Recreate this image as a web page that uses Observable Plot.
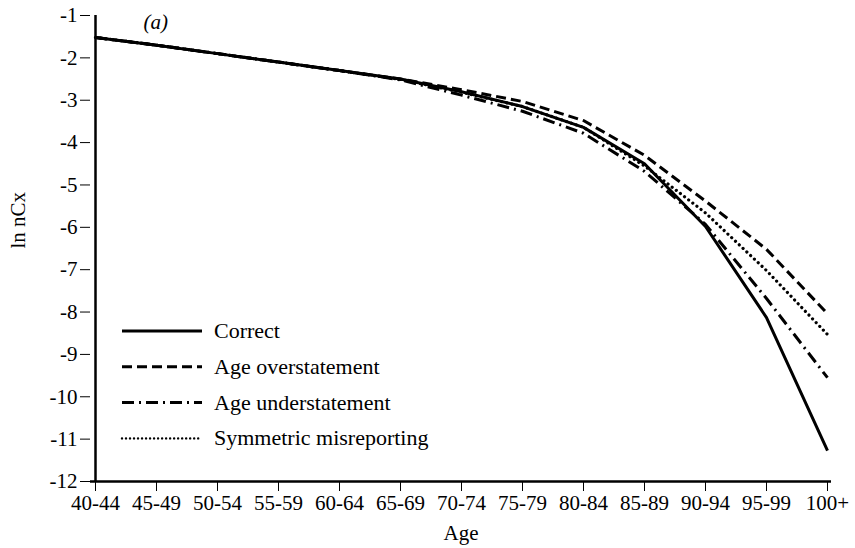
<!DOCTYPE html>
<html>
<head>
<meta charset="utf-8">
<script src="https://cdn.jsdelivr.net/npm/d3@7"></script>
<script src="https://cdn.jsdelivr.net/npm/@observablehq/plot@0.6"></script>
<style>
  html, body { margin: 0; padding: 0; background: #fff; }
  #wrap { position: relative; width: 855px; height: 548px; }
  #legend { position: absolute; left: 0; top: 0; }
</style>
</head>
<body>
<div id="wrap"></div>
<script>
const ages = ["40-44","45-49","50-54","55-59","60-64","65-69","70-74","75-79","80-84","85-89","90-94","95-99","100+"];
const yTicks = [-12,-11,-10,-9,-8,-7,-6,-5,-4,-3,-2,-1];
const seriesNames = ["Correct","Age overstatement","Age understatement","Symmetric misreporting"];
const correct    = [-1.52,-1.70,-1.90,-2.10,-2.30,-2.50,-2.80,-3.15,-3.64,-4.50,-5.98,-8.13,-11.27];
const overstate  = [-1.52,-1.70,-1.90,-2.10,-2.30,-2.50,-2.75,-3.03,-3.48,-4.30,-5.38,-6.52,-8.04];
const understate = [-1.52,-1.70,-1.90,-2.10,-2.30,-2.52,-2.88,-3.26,-3.78,-4.68,-5.93,-7.68,-9.55];
const symmetric  = [-1.52,-1.70,-1.90,-2.10,-2.30,-2.51,-2.81,-3.15,-3.64,-4.55,-5.66,-7.02,-8.53];

const FONT = "'Liberation Serif', 'Times New Roman', serif";
const styles = [
  {dash: null, width: 3, cap: "butt"},
  {dash: "10,5", width: 3, cap: "butt"},
  {dash: "12,5,2,5", width: 3, cap: "butt"},
  {dash: "0.01,5.2", width: 3.2, cap: "round"}
];
const allSeries = [correct, overstate, understate, symmetric];
const rows = (vals) => ages.map((a, i) => ({age: a, v: vals[i]}));

const chart = Plot.plot({
  width: 855,
  height: 548,
  marginLeft: 90,
  marginRight: 24,
  marginTop: 15,
  marginBottom: 67,
  style: {fontFamily: FONT, fontSize: "21px", color: "#000", background: "#fff"},
  x: {type: "point", domain: ages, padding: 0, tickSize: 10, tickPadding: 4, label: null},
  y: {domain: [-12, -1], ticks: yTicks, tickFormat: d => String(d), tickSize: 10, tickPadding: 3, label: null},
  marks: [
    Plot.ruleX([ages[0]], {stroke: "#000", strokeWidth: 2.5}),
    Plot.ruleY([-12], {stroke: "#000", strokeWidth: 2.5}),
    ...allSeries.map((vals, k) => Plot.line(rows(vals), {
      x: "age", y: "v", stroke: "#000",
      strokeWidth: styles[k].width,
      strokeDasharray: styles[k].dash,
      strokeLinecap: styles[k].cap,
      curve: "linear"
    })),
    Plot.text(["ln nCx"], {frameAnchor: "left", dx: -72, rotate: -90, fontSize: 21, fill: "#000"}),
    Plot.text(["Age"], {frameAnchor: "bottom", dy: 58, fontSize: 21, fill: "#000"}),
    Plot.text(["(a)"], {frameAnchor: "top-left", dx: 53, dy: -1, fontSize: 21, fontStyle: "italic", fill: "#000"})
  ]
});
document.getElementById("wrap").appendChild(chart);

// Legend overlay
const legend = d3.select("#wrap").append("svg")
  .attr("id", "legend").attr("width", 855).attr("height", 548);
const legendTop = 331, legendStep = 35.8;
seriesNames.forEach((name, k) => {
  const y = legendTop + k * legendStep;
  legend.append("line")
    .attr("x1", 122).attr("x2", 202).attr("y1", y).attr("y2", y)
    .attr("stroke", "#000").attr("stroke-width", k === 3 ? 2.4 : styles[k].width)
    .attr("stroke-linecap", styles[k].cap)
    .attr("stroke-dasharray", k === 3 ? "0.01,4" : styles[k].dash);
  legend.append("text")
    .attr("x", 214).attr("y", y + 7)
    .attr("font-family", FONT).attr("font-size", 22).attr("fill", "#000")
    .text(name);
});
</script>
</body>
</html>
